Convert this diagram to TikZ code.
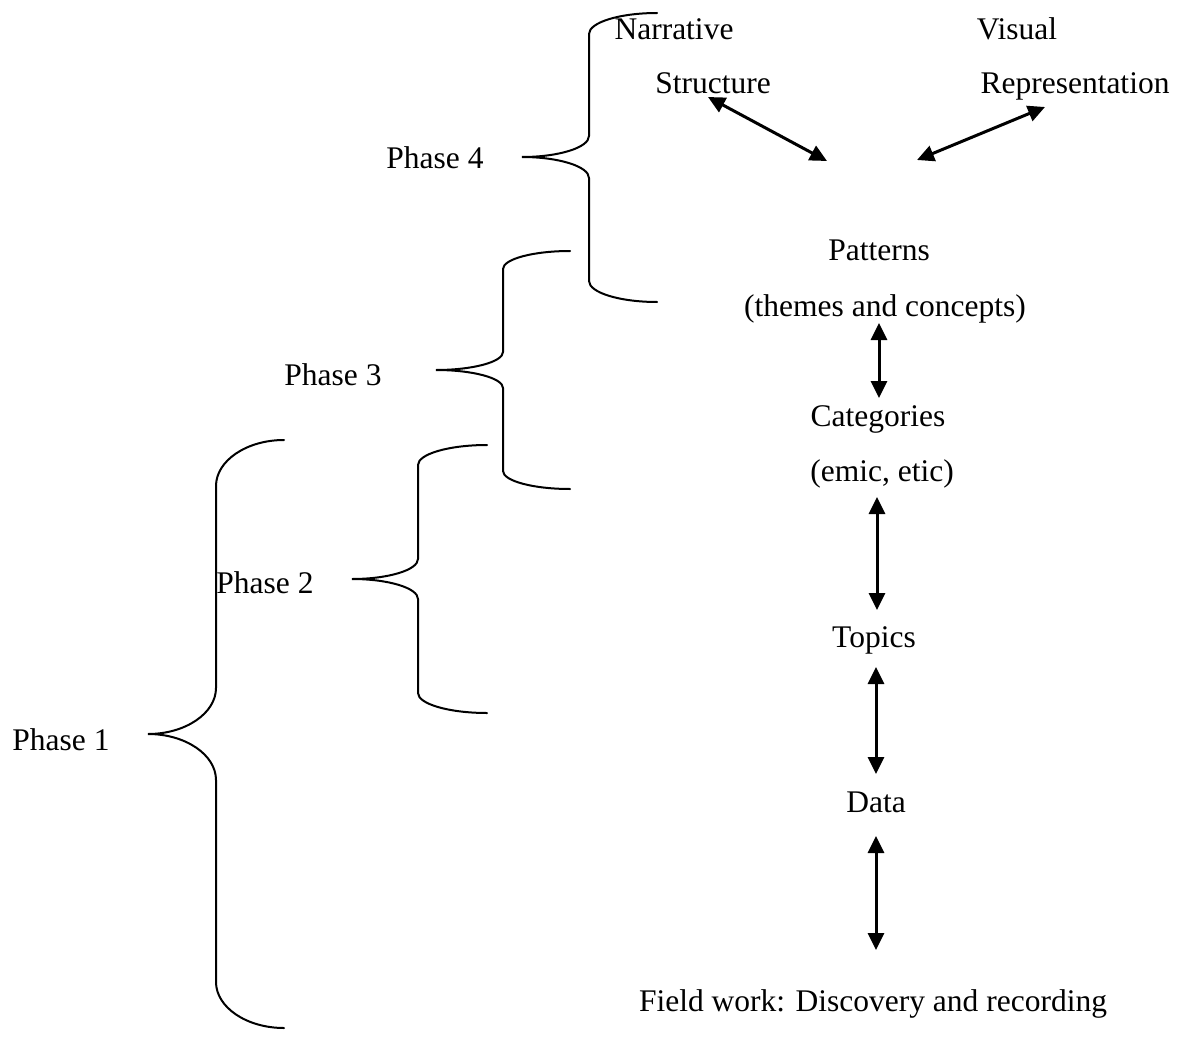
\documentclass[tikz,border=0pt]{standalone}
\usepackage{fontspec}
\setmainfont{Liberation Serif}
\usetikzlibrary{arrows.meta}
\newcommand\phasebrace[7]{%
\draw[bracestyle] (#1,#4) .. controls ({#2+0.45*(#1-#2)},#4) and (#2,{#4+0.45*#7}) .. (#2,{#4+#7})
 -- (#2,{#5-#7}) .. controls (#2,{#5-0.45*#7}) and ({#3+0.55*(#2-#3)},#5) .. (#3,#5)
 .. controls ({#3+0.55*(#2-#3)},#5) and (#2,{#5+0.45*#7}) .. (#2,{#5+#7})
 -- (#2,{#6-#7}) .. controls (#2,{#6-0.45*#7}) and ({#2+0.45*(#1-#2)},#6) .. (#1,#6);}
\begin{document}
\begin{tikzpicture}[x=1pt,y=-1pt,
  lbl/.style={anchor=base,inner sep=0pt,font=\fontsize{31.5pt}{36pt}\selectfont},
  bracestyle/.style={line width=2pt,line cap=round},
  arr/.style={line width=3pt,{Triangle[length=17pt,width=16pt]}-{Triangle[length=17pt,width=16pt]}}]
\useasboundingbox (0,0) rectangle (1181,1038);
% labels
\node[lbl] (narr) at (674,40) {Narrative};
\node[lbl] (vis) at (1017,40) {Visual};
\node[lbl] (struc) at (713,94) {Structure};
\node[lbl] (repr) at (1075,94) {Representation};
\node[lbl] (ph4) at (435,168) {Phase 4};
\node[lbl] (pat) at (879,260) {Patterns};
\node[lbl] (them) at (885,316) {(themes and concepts)};
\node[lbl] (ph3) at (333,385) {Phase 3};
\node[lbl] (cat) at (878,426) {Categories};
\node[lbl] (emic) at (882,481) {(emic, etic)};
\node[lbl] (ph2) at (265,593) {Phase 2};
\node[lbl] (top) at (874,647) {Topics};
\node[lbl] (ph1) at (61,750) {Phase 1};
\node[lbl] (data) at (876,812) {Data};
\node[lbl] (field) at (873,1011) {Field work: Discovery and recording};
% braces
\phasebrace{657}{589}{522}{13}{157}{302}{21}
\phasebrace{570}{503}{436}{251}{370}{489}{18}
\phasebrace{487}{418}{352}{445}{579}{713}{20}
\phasebrace{284}{216}{148}{440}{734}{1028}{46}
% arrow ends
\coordinate (a1s) at (708,97);  \coordinate (a1e) at (827,161);
\coordinate (a2s) at (917,160); \coordinate (a2e) at (1045,107);
\coordinate (a3s) at (879,323); \coordinate (a3e) at (879,398);
\coordinate (a4s) at (877,497); \coordinate (a4e) at (877,610);
\coordinate (a5s) at (876,667); \coordinate (a5e) at (876,774);
\coordinate (a6s) at (876,836); \coordinate (a6e) at (876,950);
\draw[arr] (a1s) -- (a1e);
\draw[arr] (a2s) -- (a2e);
\draw[arr] (a3s) -- (a3e);
\draw[arr] (a4s) -- (a4e);
\draw[arr] (a5s) -- (a5e);
\draw[arr] (a6s) -- (a6e);
\end{tikzpicture}
\end{document}
